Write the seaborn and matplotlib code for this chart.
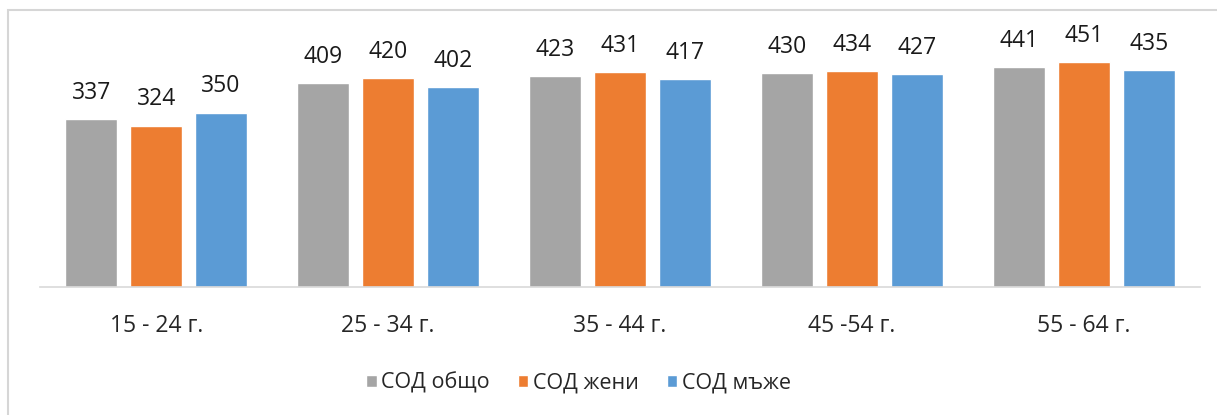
import matplotlib
matplotlib.use("Agg")
import matplotlib.pyplot as plt
import seaborn as sns
import pandas as pd
from matplotlib.patches import Rectangle

# --- data ---
age_groups = ['15 - 24 г.', '25 - 34 г.', '35 - 44 г.', '45 -54 г.', '55 - 64 г.']
series_names = ['СОД общо', 'СОД жени', 'СОД мъже']
total = [337, 409, 423, 430, 441]
women = [324, 420, 431, 434, 451]
men = [350, 402, 417, 427, 435]

df = pd.DataFrame({
    'group': age_groups * 3,
    'series': [series_names[0]] * 5 + [series_names[1]] * 5 + [series_names[2]] * 5,
    'value': total + women + men,
})

sns.set_theme(style='white')
plt.rcParams['font.family'] = ['Open Sans', 'DejaVu Sans']

fig = plt.figure(figsize=(12.17, 4.15), dpi=100)
ax = fig.add_axes([0.033, 0.308, 0.953, 0.625])

palette = {'СОД общо': '#A5A5A5', 'СОД жени': '#ED7D31', 'СОД мъже': '#5B9BD5'}
sns.barplot(data=df, x='group', y='value', hue='series', order=age_groups,
            hue_order=series_names, palette=palette, width=0.84, gap=0.2,
            saturation=1, ax=ax, legend=True)

for cont in ax.containers:
    for bar in cont:
        h = bar.get_height()
        ax.annotate(f"{h:.0f}", (bar.get_x() + bar.get_width() / 2, h),
                    xytext=(0, 14.5), textcoords='offset points',
                    ha='center', va='baseline', fontsize=16.5, color='#1a1a1a')

ax.set_xlim(-0.5, 4.5)
ax.set_ylim(0, 520)
ax.set_xlabel('')
ax.set_ylabel('')
ax.set_yticks([])
for s in ['top', 'right', 'left']:
    ax.spines[s].set_visible(False)
ax.spines['bottom'].set_color('#D9D9D9')
ax.spines['bottom'].set_linewidth(1.2)
ax.tick_params(axis='x', length=0, pad=19, labelsize=16.5, colors='#262626')

leg = ax.legend(loc='center', bbox_to_anchor=(0.464, -0.37), ncol=3, frameon=False,
                fontsize=15.5, handlelength=0.5, handleheight=0.5,
                handletextpad=0.2, columnspacing=1.3)
for t in leg.get_texts():
    t.set_color('#262626')

# chart frame
fig.patches.append(Rectangle((8 / 1217, -0.01), 1.0, (415 - 10) / 415 + 0.01,
                             transform=fig.transFigure, fill=False,
                             edgecolor='#D6D6D6', linewidth=1.5))

fig.savefig('out.png', dpi=100, facecolor='white')
